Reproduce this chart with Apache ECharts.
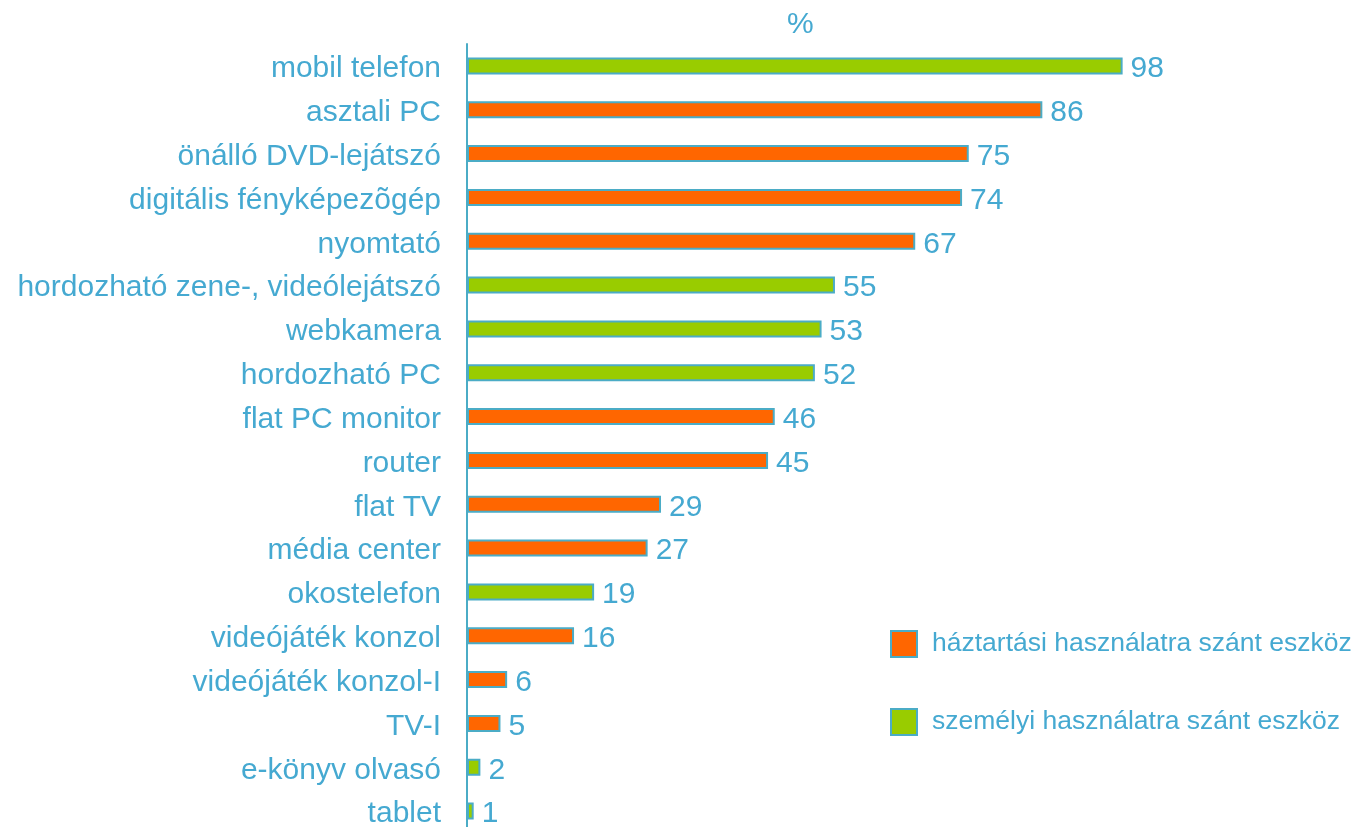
<!DOCTYPE html>
<html>
<head>
<meta charset="utf-8">
<script src="https://cdn.jsdelivr.net/npm/echarts@6/dist/echarts.min.js"></script>
<style>
  html, body { margin: 0; padding: 0; background: #fff; }
  #chart { width: 1354px; height: 827px; }
</style>
</head>
<body>
<div id="chart"></div>
<script>
const categories = [
  'mobil telefon', 'asztali PC', 'önálló DVD-lejátszó', 'digitális fényképezõgép',
  'nyomtató', 'hordozható zene-, videólejátszó', 'webkamera', 'hordozható PC',
  'flat PC monitor', 'router', 'flat TV', 'média center', 'okostelefon',
  'videójáték konzol', 'videójáték konzol-I', 'TV-I', 'e-könyv olvasó', 'tablet'
]
const values = [98, 86, 75, 74, 67, 55, 53, 52, 46, 45, 29, 27, 19, 16, 6, 5, 2, 1]
// 'h' = háztartási, 's' = személyi
const groups = ['s', 'h', 'h', 'h', 'h', 's', 's', 's', 'h', 'h', 'h', 'h', 's', 'h', 'h', 'h', 's', 's']

const seriesNames = ['háztartási használatra szánt eszköz', 'személyi használatra szánt eszköz']
const householdData = values.map((v, i) => groups[i] === 'h' ? v : '-')
const personalData = values.map((v, i) => groups[i] === 's' ? v : '-')

const blue = '#45a9d1'
const font = 'Liberation Sans, Arial, sans-serif'

const chart = echarts.init(document.getElementById('chart'))

const barSeries = (name, data, color) => ({
  name,
  type: 'bar',
  stack: 'all',
  data,
  barWidth: 17,
  itemStyle: { color, borderColor: '#4bacc6', borderWidth: 2 },
  label: {
    show: true,
    position: 'right',
    distance: 8,
    offset: [0, 3],
    color: blue,
    fontSize: 30,
    fontFamily: font
  }
})

chart.setOption({
  animation: false,
  backgroundColor: '#fff',
  graphic: [{
    type: 'text',
    left: 787,
    top: 10,
    style: { text: '%', fill: blue, fontSize: 30, fontFamily: font }
  }],
  legend: {
    orient: 'vertical',
    left: 885,
    top: 625,
    itemWidth: 26,
    itemHeight: 26,
    itemGap: 50,
    icon: 'rect',
    textStyle: { color: blue, fontSize: 26.5, fontFamily: font, padding: [0, 0, 0, 10] },
    data: seriesNames
  },
  grid: { left: 467, right: 218, top: 44, height: 789, outerBoundsMode: 'none' },
  xAxis: {
    type: 'value',
    min: 0,
    max: 100,
    show: false
  },
  yAxis: {
    type: 'category',
    inverse: true,
    data: categories,
    axisLine: { show: true, lineStyle: { color: '#4bacc6', width: 2 } },
    axisTick: { show: false },
    axisLabel: {
      margin: 26,
      formatter: '{t|{value}}',
      rich: {
        t: { color: blue, fontSize: 30, fontFamily: font, padding: [6, 0, 0, 0] }
      }
    }
  },
  series: [
    barSeries(seriesNames[0], householdData, '#ff6600'),
    barSeries(seriesNames[1], personalData, '#99cc00')
  ]
})
</script>
</body>
</html>
